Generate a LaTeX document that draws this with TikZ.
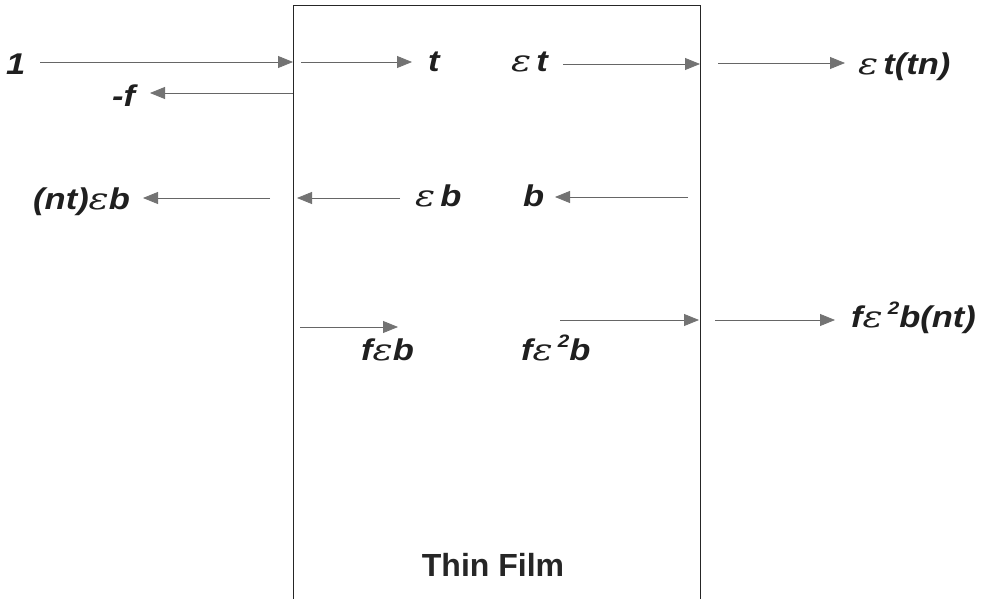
\documentclass[tikz,border=0pt]{standalone}
\usepackage{fontspec}
\setmainfont{Liberation Sans}
\newfontfamily\lblfont{Liberation Sans}[FakeStretch=1.15]
\newfontfamily\epsfont{DejaVu Serif}[FakeStretch=1.25]
\usetikzlibrary{arrows.meta}
\newcommand{\eps}{{\epsfont\itshape\mdseries\fontsize{30}{30}\selectfont ε}}
\newcommand{\sqtwo}{\raisebox{0.42em}{\fontsize{18}{18}\selectfont 2}}
\tikzset{
  lbl/.style={anchor=base west, inner sep=0pt,
    font=\lblfont\fontsize{30}{32}\selectfont\bfseries\itshape, text=black!88},
  ray/.style={draw=black!60, line width=0.8pt,
    -{Triangle[length=15pt,width=12pt,color=black!55]}},
  film/.style={draw=black!85, line width=1pt}
}
\begin{document}
\begin{tikzpicture}[x=1pt,y=-1pt]
\useasboundingbox (0,0) rectangle (983,599);
% film
\coordinate (TL) at (293,6);
\coordinate (TR) at (700,6);
\coordinate (BL) at (293,599);
\coordinate (BR) at (700,599);
\draw[film] (BL) -- (TL) -- (TR) -- (BR);
\node[inner sep=0pt, font=\fontsize{32}{36}\selectfont\bfseries, text=black!85] (title) at (493,565) {Thin Film};
% labels
\node[lbl] (one) at (6,75) {1};
\node[lbl] (mf) at (112,107) {-f};
\node[lbl] (t) at (428,72) {t};
\node[lbl] (et) at (511,72) {\eps\,t};
\node[lbl] (ettn) at (858,75) {\eps\,t(tn)};
\node[lbl] (nteb) at (33,209) {(nt)\eps b};
\node[lbl] (eb) at (415,207) {\eps\,b};
\node[lbl] (b) at (523,207) {b};
\node[lbl] (feb) at (361,360) {f\eps b};
\node[lbl] (fe2b) at (521,360) {f\eps\,\sqtwo b};
\node[lbl] (fe2bnt) at (851,327) {f\eps\,\sqtwo b(nt)};
% arrow end points
\coordinate (a1s) at (40,62);   \coordinate (a1e) at (293,62);
\coordinate (a2s) at (293,93);  \coordinate (a2e) at (150,93);
\coordinate (a3s) at (301,62);  \coordinate (a3e) at (412,62);
\coordinate (a4s) at (563,64);  \coordinate (a4e) at (700,64);
\coordinate (a5s) at (718,63);  \coordinate (a5e) at (845,63);
\coordinate (b1s) at (270,198); \coordinate (b1e) at (143,198);
\coordinate (b2s) at (400,198); \coordinate (b2e) at (297,198);
\coordinate (b3s) at (688,197); \coordinate (b3e) at (555,197);
\coordinate (c1s) at (300,327); \coordinate (c1e) at (398,327);
\coordinate (c2s) at (560,320); \coordinate (c2e) at (699,320);
\coordinate (c3s) at (715,320); \coordinate (c3e) at (835,320);
\foreach \p in {a1,a2,a3,a4,a5,b1,b2,b3,c1,c2,c3}
  \draw[ray] (\p s) -- (\p e);
\end{tikzpicture}
\end{document}
